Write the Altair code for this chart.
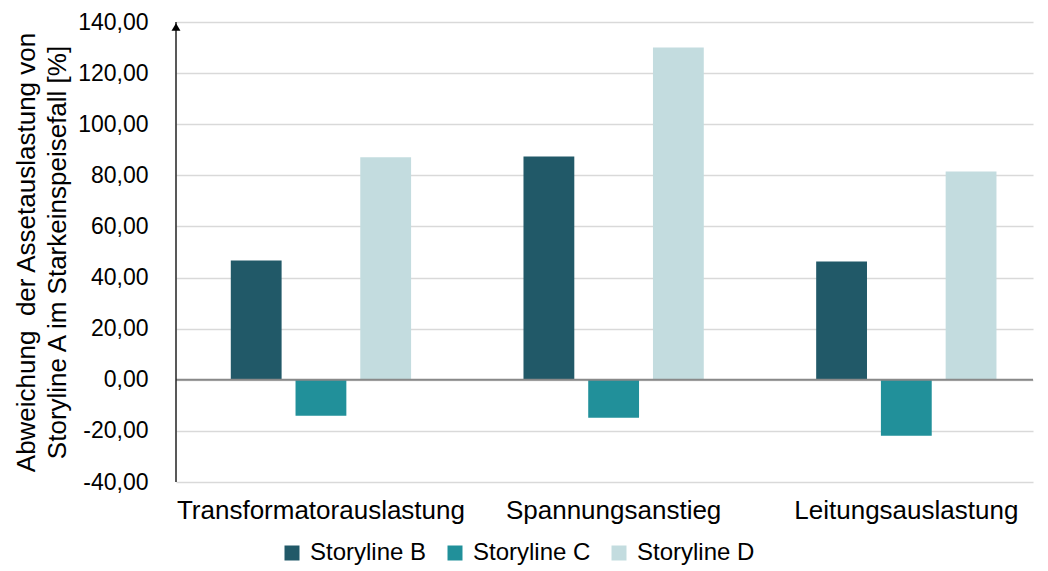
import altair as alt
import pandas as pd

categories = ["Transformatorauslastung", "Spannungsanstieg", "Leitungsauslastung"]
series = ["Storyline B", "Storyline C", "Storyline D"]
values_b = [46.7, 87.4, 46.3]
values_c = [-14.1, -14.9, -21.9]
values_d = [87.1, 130.0, 81.5]
colors = ["#215968", "#21909a", "#c3dcdf"]
y_ticks = list(range(-40, 141, 20))
y_title = ["Abweichung\u00a0 der Assetauslastung von", "Storyline A im Starkeinspeisefall [%]"]

rows = []
for s, vals in zip(series, [values_b, values_c, values_d]):
    for c, v in zip(categories, vals):
        rows.append({"Kategorie": c, "Serie": s, "Wert": v})
df = pd.DataFrame(rows)

FONT = "Liberation Sans"
yscale = alt.Scale(domain=[-40, 140], nice=False, zero=False)
label_expr = "replace(replace(format(datum.value, '.2f'), '.', ','), '\u2212', '-')"

bars = alt.Chart(df).mark_bar().encode(
    x=alt.X(
        "Kategorie:N",
        sort=categories,
        scale=alt.Scale(paddingInner=0.384, paddingOuter=0.156, align=0.6),
        axis=alt.Axis(
            title=None, labelAngle=0, labelFontSize=26, labelColor="#000000",
            domain=False, ticks=False, labelPadding=15, grid=False, labelFont=FONT,
            labelLimit=0,
        ),
    ),
    xOffset=alt.XOffset("Serie:N", sort=series, scale=alt.Scale(paddingInner=0.215, paddingOuter=0)),
    y=alt.Y(
        "Wert:Q",
        scale=yscale,
        axis=alt.Axis(
            values=y_ticks, labelExpr=label_expr, title=y_title,
            titleFontSize=26, titleFontWeight="normal", titleColor="#000000", titleFont=FONT,
            titleLineHeight=31,
            labelFontSize=23, labelColor="#000000", labelFont=FONT, labelPadding=28,
            grid=True, gridColor="#d9d9d9", gridWidth=1.5, domain=False, ticks=False,
            titlePadding=7,
        ),
    ),
    color=alt.Color(
        "Serie:N",
        sort=series,
        scale=alt.Scale(domain=series, range=colors),
        legend=alt.Legend(
            orient="none", legendX=104, legendY=519, direction="horizontal", title=None,
            symbolType="square", symbolSize=225, symbolStrokeWidth=0, labelFontSize=24,
            labelFont=FONT, labelColor="#000000", columnPadding=16, labelOffset=6,
            labelLimit=0,
        ),
    ),
)

zero_df = pd.DataFrame({"Wert": [0]})
zero_line = alt.Chart(zero_df).mark_rule(color="#898989", strokeWidth=2).encode(
    y=alt.Y("Wert:Q", scale=yscale)
)

axis_df = pd.DataFrame({"Wert": [-40], "Wert2": [140]})
axis_line = alt.Chart(axis_df).mark_rule(color="#222222", strokeWidth=1.5).encode(
    x=alt.value(0), y=alt.Y("Wert:Q", scale=yscale), y2="Wert2:Q"
)

arrow_df = pd.DataFrame({"Wert": [140]})
arrow = alt.Chart(arrow_df).mark_point(
    shape="triangle-up", filled=True, size=80, color="#000000", opacity=1, yOffset=5
).encode(x=alt.value(0), y=alt.Y("Wert:Q", scale=yscale))

chart = alt.layer(bars, zero_line, axis_line, arrow).properties(
    width=857, height=460,
    padding={"left": 5, "top": 3, "right": 0, "bottom": 0},
).configure(font=FONT).configure_view(stroke=None)

chart.save("out.html", embed_options={"renderer": "svg", "actions": False})
